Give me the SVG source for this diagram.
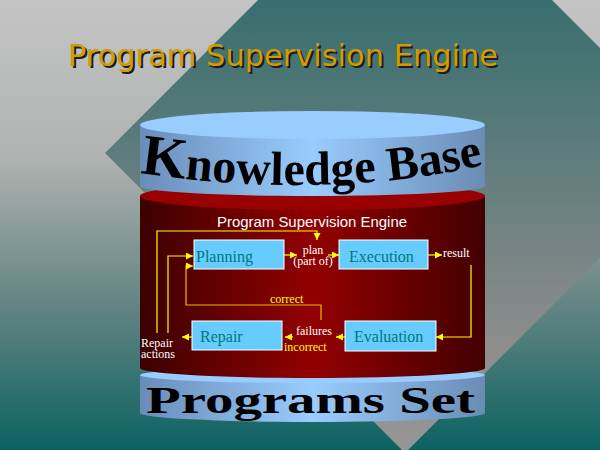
<svg xmlns="http://www.w3.org/2000/svg" xmlns:xlink="http://www.w3.org/1999/xlink" width="600" height="450" viewBox="0 0 600 450">
<defs>
<linearGradient id="bgOut" x1="0" y1="0" x2="0" y2="450" gradientUnits="userSpaceOnUse">
<stop offset="0" stop-color="#c4c4c4"/>
<stop offset="0.35" stop-color="#afb3b1"/>
<stop offset="0.65" stop-color="#6a8886"/>
<stop offset="1" stop-color="#0c6262"/>
</linearGradient>
<linearGradient id="bgIn" x1="0" y1="0" x2="0" y2="450" gradientUnits="userSpaceOnUse">
<stop offset="0" stop-color="#386e6e"/>
<stop offset="0.75" stop-color="#8c8c8c"/>
<stop offset="1" stop-color="#969696"/>
</linearGradient>
<linearGradient id="blueSide" x1="140" y1="0" x2="485" y2="0" gradientUnits="userSpaceOnUse">
<stop offset="0" stop-color="#6a8db8"/>
<stop offset="0.5" stop-color="#99ccff"/>
<stop offset="1" stop-color="#6a8cb4"/>
</linearGradient>
<linearGradient id="redSide" x1="140" y1="0" x2="485" y2="0" gradientUnits="userSpaceOnUse">
<stop offset="0" stop-color="#3c0000"/>
<stop offset="0.5" stop-color="#930000"/>
<stop offset="1" stop-color="#420000"/>
</linearGradient>
<marker id="ah" markerWidth="8" markerHeight="8" refX="7" refY="3.5" orient="auto" markerUnits="userSpaceOnUse">
<path d="M0,0 L7,3.5 L0,7 Z" fill="#ffff00"/>
</marker>
<path id="kbPath" d="M139,173 Q330,201 488,164"/>
<style>
.box{fill:#66ccff;stroke:#ffffff;stroke-width:1}
.btxt{font-family:"Liberation Serif","Times New Roman",serif;font-size:16px;fill:#007878}
.lbl{font-family:"Liberation Serif","Times New Roman",serif;font-size:12px;fill:#ffffff}
.ylbl{font-family:"Liberation Serif","Times New Roman",serif;font-size:12px;fill:#ffff00}
.con{fill:none;stroke:#ffff00;stroke-width:1.2;marker-end:url(#ah)}
.con2{fill:none;stroke:#e8bc00;stroke-width:1.2;marker-end:url(#ah)}
</style>
</defs>

<rect x="0" y="0" width="600" height="450" fill="url(#bgOut)"/>
<polygon points="105,153 405,-147 705,153 405,453" fill="url(#bgIn)"/>

<g id="title">
<text x="70" y="68" font-family="DejaVu Sans, Verdana, sans-serif" font-size="30" textLength="430" lengthAdjust="spacingAndGlyphs" fill="#1c1c1c">Program Supervision Engine</text>
<text x="68" y="66" font-family="DejaVu Sans, Verdana, sans-serif" font-size="30" textLength="430" lengthAdjust="spacingAndGlyphs" fill="#d09c00">Program Supervision Engine</text>
</g>

<g id="programs-set">
<path d="M140,375 V413 A172.5,9 0 0 0 485,413 V375 Z" fill="url(#blueSide)"/>
<ellipse cx="312.5" cy="375" rx="172.5" ry="8" fill="#99ccff"/>
<text x="146" y="413" font-family="Liberation Serif, Times New Roman, serif" font-weight="bold" font-size="37" textLength="329" lengthAdjust="spacingAndGlyphs" fill="#000000">Programs Set</text>
</g>

<g id="engine">
<path d="M140,196 V368 A172.5,10 0 0 0 485,368 V196 Z" fill="url(#redSide)"/>
<ellipse cx="312.5" cy="196" rx="172.5" ry="14" fill="#990000"/>
<text x="217" y="227" font-family="Liberation Sans, Arial, sans-serif" font-size="14.5" textLength="190" lengthAdjust="spacingAndGlyphs" fill="#ffffff">Program Supervision Engine</text>
</g>

<g id="knowledge-base">
<path d="M140,125 V186 A172.5,10 0 0 0 485,186 V125 Z" fill="url(#blueSide)"/>
<ellipse cx="312.5" cy="125" rx="172.5" ry="14" fill="#99ccff"/>
<text font-family="Liberation Serif, Times New Roman, serif" font-weight="bold" fill="#000000"><textPath xlink:href="#kbPath" href="#kbPath" startOffset="1"><tspan font-size="58">K</tspan><tspan font-size="48">nowledge Base</tspan></textPath></text>
</g>

<g id="connectors">
<path class="con" d="M157,333 V231 H317 V240"/>
<path class="con" d="M168,333 V256 H193"/>
<path class="con2" d="M321,320 V305 H186 V266 H193"/>
<path class="con" d="M284,255 H297"/>
<path class="con" d="M328,255 H339"/>
<path class="con" d="M428,255 H442"/>
<path class="con" d="M471,265 V337 H436"/>
<path class="con" d="M345,337 H336"/>
<path class="con" d="M293,337 H285"/>
<path class="con" d="M192,337 H182"/>
</g>

<g id="planning">
<rect class="box" x="194" y="240" width="90" height="29"/>
<text class="btxt" x="196" y="262">Planning</text>
</g>
<g id="execution">
<rect class="box" x="339" y="240" width="89" height="29"/>
<text class="btxt" x="349" y="262">Execution</text>
</g>
<g id="evaluation">
<rect class="box" x="345" y="321" width="91" height="30"/>
<text class="btxt" x="354" y="342">Evaluation</text>
</g>
<g id="repair">
<rect class="box" x="192" y="321" width="90" height="29"/>
<text class="btxt" x="200" y="342">Repair</text>
</g>

<g id="labels">
<text class="lbl" x="313" y="254" text-anchor="middle">plan</text>
<text class="lbl" x="313" y="265" text-anchor="middle">(part of)</text>
<text class="lbl" x="443" y="257">result</text>
<text class="ylbl" x="270" y="303">correct</text>
<text class="lbl" x="296" y="335">failures</text>
<text class="ylbl" x="284" y="351">incorrect</text>
<text class="lbl" x="141" y="347">Repair</text>
<text class="lbl" x="141" y="358">actions</text>
</g>
</svg>
